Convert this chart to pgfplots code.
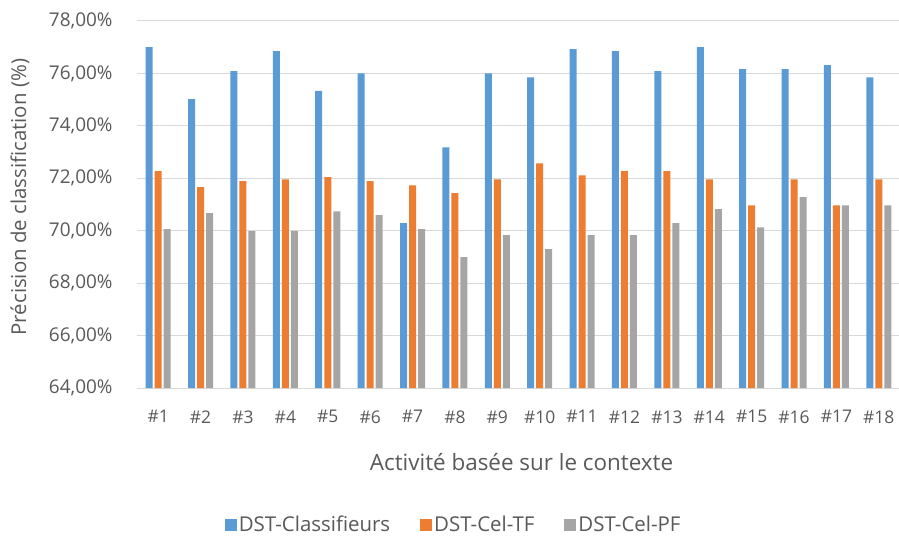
\documentclass[border=0pt]{standalone}
\usepackage{pgfplots}
\pgfplotsset{compat=1.18}
\usepackage{fontspec}
\setmainfont{Open Sans}
\definecolor{cblue}{HTML}{5B9BD5}
\definecolor{corange}{HTML}{ED7D31}
\definecolor{cgray}{HTML}{A5A5A5}
\definecolor{grid}{HTML}{D9D9D9}
\definecolor{txt}{HTML}{595959}
\begin{document}
\begin{tikzpicture}
\path[use as bounding box] (-137bp,-152bp) rectangle (762bp,388bp);
\begin{axis}[
  scale only axis, width=763bp, height=367bp,
  ymin=64, ymax=78, xmin=-0.5, xmax=17.5,
  ytick={64,66,...,78},
  yticklabels={{64,00\%},{66,00\%},{68,00\%},{70,00\%},{72,00\%},{74,00\%},{76,00\%},{78,00\%}},
  xtick={0,...,17},
  xticklabels={\#1,\#2,\#3,\#4,\#5,\#6,\#7,\#8,\#9,\#10,\#11,\#12,\#13,\#14,\#15,\#16,\#17,\#18},
  ymajorgrids, grid style={draw=grid, line width=1bp},
  axis x line*=bottom, axis y line*=left,
  y axis line style={draw=none},
  x axis line style={draw=grid, line width=1bp},
  major tick length=0pt,
  yticklabel style={font=\fontsize{19}{22}\selectfont, text=txt},
  xticklabel style={font=\fontsize{17.5}{21}\selectfont, text=txt},
  yticklabel shift=21bp, xticklabel shift=19bp,
  /pgf/number format/assume math mode=true,
  ylabel={Précision de classification (\%)},
  xlabel={Activité basée sur le contexte},
  ylabel style={font=\fontsize{20.5}{24}\selectfont, text=txt, at={(axis description cs:-0.1533,0.52)}, anchor=center, rotate=0},
  xlabel style={font=\fontsize{22.5}{26}\selectfont, text=txt, at={(axis description cs:0.504,-0.2016)}, anchor=center},
  ybar=2bp, bar width=7bp,
  legend columns=3,
  legend style={at={(axis description cs:0.415,-0.373)}, anchor=center, draw=none,
    font=\fontsize{20.5}{24}\selectfont, text=txt,
    /tikz/every even column/.append style={column sep=28bp}},
  legend image code/.code={\fill[#1] (0bp,-6bp) rectangle (12bp,6bp);},
]
\addplot[fill=cblue, draw=none] coordinates {(0,77.00) (1,75.02) (2,76.09) (3,76.85) (4,75.33) (5,76.00) (6,70.29) (7,73.18) (8,76.00) (9,75.85) (10,76.93) (11,76.85) (12,76.09) (13,77.00) (14,76.16) (15,76.16) (16,76.32) (17,75.85)};
\addplot[fill=corange, draw=none] coordinates {(0,72.27) (1,71.66) (2,71.89) (3,71.96) (4,72.04) (5,71.89) (6,71.73) (7,71.43) (8,71.96) (9,72.57) (10,72.11) (11,72.27) (12,72.27) (13,71.96) (14,70.97) (15,71.96) (16,70.97) (17,71.96)};
\addplot[fill=cgray, draw=none] coordinates {(0,70.06) (1,70.67) (2,69.98) (3,69.98) (4,70.74) (5,70.59) (6,70.06) (7,68.99) (8,69.83) (9,69.30) (10,69.83) (11,69.83) (12,70.29) (13,70.82) (14,70.13) (15,71.28) (16,70.97) (17,70.97)};
\legend{DST-Classifieurs, DST-Cel-TF, DST-Cel-PF}
\end{axis}
\end{tikzpicture}
\end{document}
